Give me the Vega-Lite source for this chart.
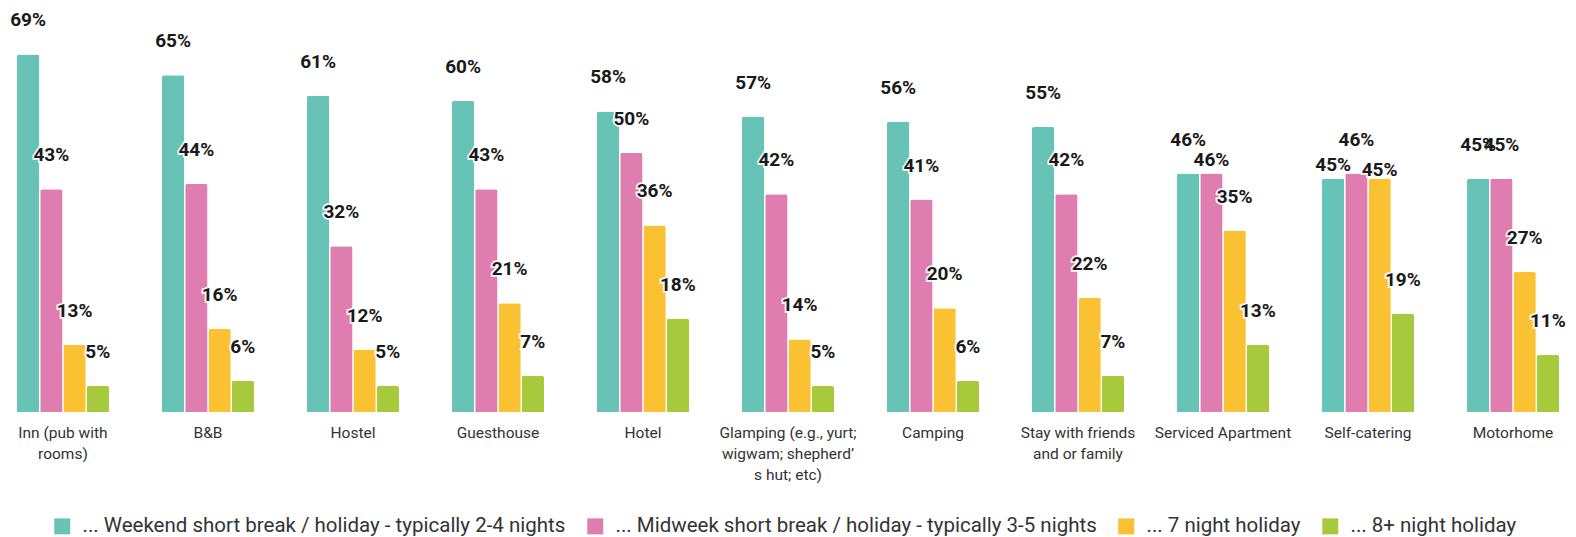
{
  "$schema": "https://vega.github.io/schema/vega-lite/v6.json",
  "width": 1576,
  "height": 412,
  "autosize": {"type": "none"},
  "padding": {"left": 0, "top": 0, "right": 0, "bottom": 125},
  "background": "white",
  "config": {"view": {"stroke": null}, "font": "Roboto"},
  "data": {"values": [
    {"cat": "Inn (pub with|rooms)", "series": "... Weekend short break / holiday - typically 2-4 nights", "v": 0.69},
    {"cat": "Inn (pub with|rooms)", "series": "... Midweek short break / holiday - typically 3-5 nights", "v": 0.43},
    {"cat": "Inn (pub with|rooms)", "series": "... 7 night holiday", "v": 0.13},
    {"cat": "Inn (pub with|rooms)", "series": "... 8+ night holiday", "v": 0.05},
    {"cat": "B&B", "series": "... Weekend short break / holiday - typically 2-4 nights", "v": 0.65},
    {"cat": "B&B", "series": "... Midweek short break / holiday - typically 3-5 nights", "v": 0.44},
    {"cat": "B&B", "series": "... 7 night holiday", "v": 0.16},
    {"cat": "B&B", "series": "... 8+ night holiday", "v": 0.06},
    {"cat": "Hostel", "series": "... Weekend short break / holiday - typically 2-4 nights", "v": 0.61},
    {"cat": "Hostel", "series": "... Midweek short break / holiday - typically 3-5 nights", "v": 0.32},
    {"cat": "Hostel", "series": "... 7 night holiday", "v": 0.12},
    {"cat": "Hostel", "series": "... 8+ night holiday", "v": 0.05},
    {"cat": "Guesthouse", "series": "... Weekend short break / holiday - typically 2-4 nights", "v": 0.60},
    {"cat": "Guesthouse", "series": "... Midweek short break / holiday - typically 3-5 nights", "v": 0.43},
    {"cat": "Guesthouse", "series": "... 7 night holiday", "v": 0.21},
    {"cat": "Guesthouse", "series": "... 8+ night holiday", "v": 0.07},
    {"cat": "Hotel", "series": "... Weekend short break / holiday - typically 2-4 nights", "v": 0.58},
    {"cat": "Hotel", "series": "... Midweek short break / holiday - typically 3-5 nights", "v": 0.50},
    {"cat": "Hotel", "series": "... 7 night holiday", "v": 0.36},
    {"cat": "Hotel", "series": "... 8+ night holiday", "v": 0.18},
    {"cat": "Glamping (e.g., yurt;|wigwam; shepherd’|s hut; etc)", "series": "... Weekend short break / holiday - typically 2-4 nights", "v": 0.57},
    {"cat": "Glamping (e.g., yurt;|wigwam; shepherd’|s hut; etc)", "series": "... Midweek short break / holiday - typically 3-5 nights", "v": 0.42},
    {"cat": "Glamping (e.g., yurt;|wigwam; shepherd’|s hut; etc)", "series": "... 7 night holiday", "v": 0.14},
    {"cat": "Glamping (e.g., yurt;|wigwam; shepherd’|s hut; etc)", "series": "... 8+ night holiday", "v": 0.05},
    {"cat": "Camping", "series": "... Weekend short break / holiday - typically 2-4 nights", "v": 0.56},
    {"cat": "Camping", "series": "... Midweek short break / holiday - typically 3-5 nights", "v": 0.41},
    {"cat": "Camping", "series": "... 7 night holiday", "v": 0.20},
    {"cat": "Camping", "series": "... 8+ night holiday", "v": 0.06},
    {"cat": "Stay with friends|and or family", "series": "... Weekend short break / holiday - typically 2-4 nights", "v": 0.55},
    {"cat": "Stay with friends|and or family", "series": "... Midweek short break / holiday - typically 3-5 nights", "v": 0.42},
    {"cat": "Stay with friends|and or family", "series": "... 7 night holiday", "v": 0.22},
    {"cat": "Stay with friends|and or family", "series": "... 8+ night holiday", "v": 0.07},
    {"cat": "Serviced Apartment", "series": "... Weekend short break / holiday - typically 2-4 nights", "v": 0.46},
    {"cat": "Serviced Apartment", "series": "... Midweek short break / holiday - typically 3-5 nights", "v": 0.46},
    {"cat": "Serviced Apartment", "series": "... 7 night holiday", "v": 0.35},
    {"cat": "Serviced Apartment", "series": "... 8+ night holiday", "v": 0.13},
    {"cat": "Self-catering", "series": "... Weekend short break / holiday - typically 2-4 nights", "v": 0.45},
    {"cat": "Self-catering", "series": "... Midweek short break / holiday - typically 3-5 nights", "v": 0.46},
    {"cat": "Self-catering", "series": "... 7 night holiday", "v": 0.45},
    {"cat": "Self-catering", "series": "... 8+ night holiday", "v": 0.19},
    {"cat": "Motorhome", "series": "... Weekend short break / holiday - typically 2-4 nights", "v": 0.45},
    {"cat": "Motorhome", "series": "... Midweek short break / holiday - typically 3-5 nights", "v": 0.45},
    {"cat": "Motorhome", "series": "... 7 night holiday", "v": 0.27},
    {"cat": "Motorhome", "series": "... 8+ night holiday", "v": 0.11}
  ]},
  "encoding": {
    "x": {
      "field": "cat", "type": "nominal", "sort": null,
      "scale": {"paddingInner": 0.3655, "paddingOuter": 0.117},
      "axis": {
        "title": null, "domain": false, "ticks": false, "labelAngle": 0,
        "labelExpr": "split(datum.label, '|')",
        "labelFont": "Roboto", "labelFontSize": 15.5, "labelColor": "#333333",
        "labelPadding": 13, "labelLineHeight": 21, "labelLimit": 220
      }
    },
    "xOffset": {
      "field": "series", "type": "nominal", "sort": null,
      "scale": {"paddingInner": 0.04}
    },
    "y": {
      "field": "v", "type": "quantitative",
      "scale": {"domain": [0, 0.795]},
      "axis": null
    },
    "text": {"field": "v", "type": "quantitative", "format": ".0%"}
  },
  "layer": [
    {
      "mark": {"type": "bar", "cornerRadiusTopLeft": 2, "cornerRadiusTopRight": 2},
      "encoding": {
        "color": {
          "field": "series", "type": "nominal", "sort": null,
          "scale": {
            "domain": [
              "... Weekend short break / holiday - typically 2-4 nights",
              "... Midweek short break / holiday - typically 3-5 nights",
              "... 7 night holiday",
              "... 8+ night holiday"
            ],
            "range": ["#66C3B6", "#DF7DB1", "#FAC232", "#A7C93C"]
          },
          "legend": {
            "title": null, "orient": "none", "direction": "horizontal",
            "legendX": 52, "legendY": 516,
            "symbolType": "square", "symbolSize": 256, "symbolStrokeWidth": 0,
            "labelFont": "Roboto", "labelFontSize": 20.5, "labelColor": "#333333",
            "labelLimit": 700, "columnPadding": 19, "labelOffset": 10
          }
        }
      }
    },
    {
      "transform": [{"filter": "!((datum.cat == 'Serviced Apartment' && datum.series == '... Midweek short break / holiday - typically 3-5 nights') || (datum.cat == 'Self-catering' && datum.series == '... Weekend short break / holiday - typically 2-4 nights') || (datum.cat == 'Self-catering' && datum.series == '... 7 night holiday'))"}],
      "layer": [
        {"mark": {"type": "text", "font": "Roboto", "fontWeight": "bold", "fontSize": 19, "color": "#1a1a1a", "baseline": "middle", "dy": -34, "stroke": "white", "strokeWidth": 3.5, "strokeOpacity": 0.95}},
        {"mark": {"type": "text", "font": "Roboto", "fontWeight": "bold", "fontSize": 19, "color": "#1a1a1a", "baseline": "middle", "dy": -34}}
      ]
    },
    {
      "transform": [{"filter": "(datum.cat == 'Serviced Apartment' && datum.series == '... Midweek short break / holiday - typically 3-5 nights') || (datum.cat == 'Self-catering' && datum.series == '... Weekend short break / holiday - typically 2-4 nights')"}],
      "layer": [
        {"mark": {"type": "text", "font": "Roboto", "fontWeight": "bold", "fontSize": 19, "color": "#1a1a1a", "baseline": "middle", "dy": -14, "stroke": "white", "strokeWidth": 3.5, "strokeOpacity": 0.95}},
        {"mark": {"type": "text", "font": "Roboto", "fontWeight": "bold", "fontSize": 19, "color": "#1a1a1a", "baseline": "middle", "dy": -14}}
      ]
    },
    {
      "transform": [{"filter": "datum.cat == 'Self-catering' && datum.series == '... 7 night holiday'"}],
      "layer": [
        {"mark": {"type": "text", "font": "Roboto", "fontWeight": "bold", "fontSize": 19, "color": "#1a1a1a", "baseline": "middle", "dy": -9, "stroke": "white", "strokeWidth": 3.5, "strokeOpacity": 0.95}},
        {"mark": {"type": "text", "font": "Roboto", "fontWeight": "bold", "fontSize": 19, "color": "#1a1a1a", "baseline": "middle", "dy": -9}}
      ]
    }
  ]
}
